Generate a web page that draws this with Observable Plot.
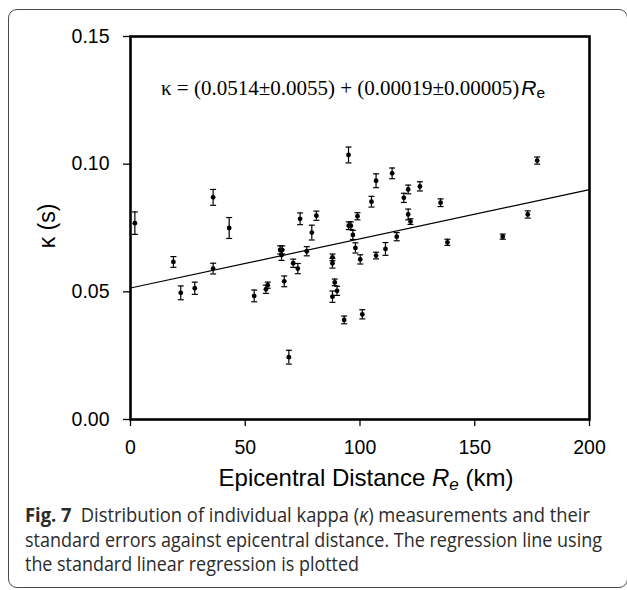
<!DOCTYPE html>
<html>
<head>
<meta charset="utf-8">
<script src="https://cdn.jsdelivr.net/npm/d3@7"></script>
<script src="https://cdn.jsdelivr.net/npm/@observablehq/plot@0.6"></script>
<style>
  html, body { margin: 0; padding: 0; background: #fff; }
  body { position: relative; width: 627px; height: 590px; overflow: hidden; }
  #border { position: absolute; left: 8px; top: 9px; width: 620px; height: 579px;
            border: 1.2px solid #4a4a4a; border-radius: 9px; box-sizing: border-box; }
  #chart { position: absolute; left: 0; top: 0; }
  #caption { position: absolute; left: 25px; top: 503px; font-family: "Open Sans", sans-serif;
             font-size: 20px; line-height: 24.5px; color: #2b2b2b; white-space: nowrap; }
  #caption span { display: inline-block; transform-origin: 0 50%; }
</style>
</head>
<body>
<div id="border"></div>
<div id="chart"></div>
<div id="caption">
  <div><span data-w="565"><b>Fig. 7</b>&ensp;Distribution of individual kappa (<i>κ</i>) measurements and their</span></div>
  <div><span data-w="577">standard errors against epicentral distance. The regression line using</span></div>
  <div><span data-w="334">the standard linear regression is plotted</span></div>
</div>
<script>
// Epicentral distance (km), kappa (s), standard error (s)
const distance = [1.9, 36.0, 43.0, 18.7, 21.9, 28.0, 36.0, 53.9, 59.0, 59.8,
  65.2, 66.1, 65.8, 67.0, 69.0, 73.9, 70.9, 72.9, 76.8, 79.0,
  81.0, 88.0, 88.0, 89.0, 90.0, 88.0, 93.1, 95.1, 96.0, 96.9,
  98.0, 98.9, 100.1, 101.0, 95.0, 105.0, 107.0, 114.0, 119.1, 121.0,
  121.0, 126.1, 135.1, 177.2, 173.1, 122.0, 116.0, 111.1, 107.0, 138.1, 162.2];
const kappa = [0.0769, 0.0870, 0.0750, 0.0617, 0.0496, 0.0514, 0.0591, 0.0484, 0.0510, 0.0526,
  0.0664, 0.0664, 0.0644, 0.0541, 0.0244, 0.0786, 0.0612, 0.0591, 0.0659, 0.0732,
  0.0798, 0.0635, 0.0612, 0.0537, 0.0504, 0.0481, 0.0390, 0.0759, 0.0759, 0.0723,
  0.0672, 0.0796, 0.0627, 0.0412, 0.1036, 0.0853, 0.0935, 0.0964, 0.0868, 0.0901,
  0.0803, 0.0913, 0.0849, 0.1014, 0.0803, 0.0775, 0.0716, 0.0668, 0.0642, 0.0694, 0.0716];
const stdErr = [0.0044, 0.0031, 0.0041, 0.0021, 0.0027, 0.0024, 0.0021, 0.0023, 0.0016, 0.0012,
  0.0016, 0.0016, 0.0021, 0.0021, 0.0027, 0.0023, 0.0016, 0.0020, 0.0018, 0.0029,
  0.0018, 0.0013, 0.0019, 0.0013, 0.0018, 0.0022, 0.0015, 0.0015, 0.0015, 0.0018,
  0.0020, 0.0014, 0.0018, 0.0018, 0.0031, 0.0021, 0.0027, 0.0021, 0.0018, 0.0017,
  0.0021, 0.0018, 0.0015, 0.0014, 0.0014, 0.0011, 0.0016, 0.0025, 0.0013, 0.0012, 0.0010];

// Regression line as drawn (end points)
const regX = [0, 200];
const regY = [0.0515, 0.0900];

const xTicks = [0, 50, 100, 150, 200];
const yTicks = [0.00, 0.05, 0.10, 0.15];

const equationText = "κ = (0.0514±0.0055) + (0.00019±0.00005)";

const data = distance.map((d, i) => ({x: d, y: kappa[i], lo: kappa[i] - stdErr[i], hi: kappa[i] + stdErr[i]}));
const reg = regX.map((d, i) => ({x: d, y: regY[i]}));

const capSymbol = {
  draw(context, size) {
    const w = Math.sqrt(size / Math.PI);
    context.moveTo(-w, 0);
    context.lineTo(w, 0);
  }
};

const chart = Plot.plot({
  width: 627,
  height: 490,
  marginTop: 36,
  marginBottom: 71,
  marginLeft: 130,
  marginRight: 38,
  style: {fontFamily: "'Liberation Sans', Arial, sans-serif", fontSize: "19.5px", color: "#000", background: "transparent", overflow: "visible"},
  x: {domain: [0, 200], ticks: xTicks, label: null},
  y: {domain: [0, 0.15], ticks: yTicks, tickFormat: d3.format(".2f"), label: null},
  marks: [
    Plot.axisX({ticks: xTicks, tickSize: 7, tickPadding: 14, strokeWidth: 1.3, label: null}),
    Plot.axisY({ticks: yTicks, tickFormat: d3.format(".2f"), tickSize: 7, tickPadding: 14, strokeWidth: 1.3, label: null}),
    Plot.line(reg, {x: "x", y: "y", stroke: "#000", strokeWidth: 1.2}),
    Plot.ruleX(data, {x: "x", y1: "lo", y2: "hi", stroke: "#000", strokeWidth: 1.2}),
    Plot.dot(data, {x: "x", y: "lo", symbol: capSymbol, r: 3, stroke: "#000", strokeWidth: 1.2, fill: "none"}),
    Plot.dot(data, {x: "x", y: "hi", symbol: capSymbol, r: 3, stroke: "#000", strokeWidth: 1.2, fill: "none"}),
    Plot.dot(data, {x: "x", y: "y", r: 2.4, fill: "#000", stroke: "none"}),
    Plot.frame({stroke: "#000", strokeWidth: 2.6})
  ]
});

const svg = d3.select(chart);

// Equation annotation
const eq = svg.append("text")
  .attr("x", 161).attr("y", 95)
  .attr("text-anchor", "start")
  .attr("font-family", "'Liberation Serif', 'Times New Roman', serif")
  .attr("font-size", 21)
  .attr("fill", "#000");
eq.append("tspan").text(equationText);
eq.append("tspan").attr("font-family", "'Liberation Sans', Arial, sans-serif").attr("font-style", "italic").attr("font-size", 21).attr("dx", 2).text("R");
eq.append("tspan").attr("font-family", "'Liberation Sans', Arial, sans-serif").attr("font-size", 15.5).attr("dy", 3).text("e");

// X axis title
const xt = svg.append("text")
  .attr("x", 366).attr("y", 486)
  .attr("text-anchor", "middle")
  .attr("font-family", "'Liberation Sans', Arial, sans-serif")
  .attr("font-size", 24)
  .attr("fill", "#000");
xt.append("tspan").text("Epicentral Distance ");
xt.append("tspan").attr("font-style", "italic").text("R");
xt.append("tspan").attr("font-style", "italic").attr("font-size", 17).attr("dy", 4).text("e");
xt.append("tspan").attr("dy", -4).text(" (km)");

// Y axis title
svg.append("text")
  .attr("transform", "translate(55,226) rotate(-90)")
  .attr("text-anchor", "middle")
  .attr("font-family", "'Liberation Sans', Arial, sans-serif")
  .attr("font-size", 23)
  .attr("fill", "#000")
  .text("κ (s)");

document.getElementById("chart").appendChild(chart);

// Fit caption lines to the reference widths
document.querySelectorAll("#caption span").forEach(s => {
  const w = s.getBoundingClientRect().width;
  const target = +s.dataset.w;
  s.style.transform = `scaleX(${target / w})`;
});
</script>
</body>
</html>
